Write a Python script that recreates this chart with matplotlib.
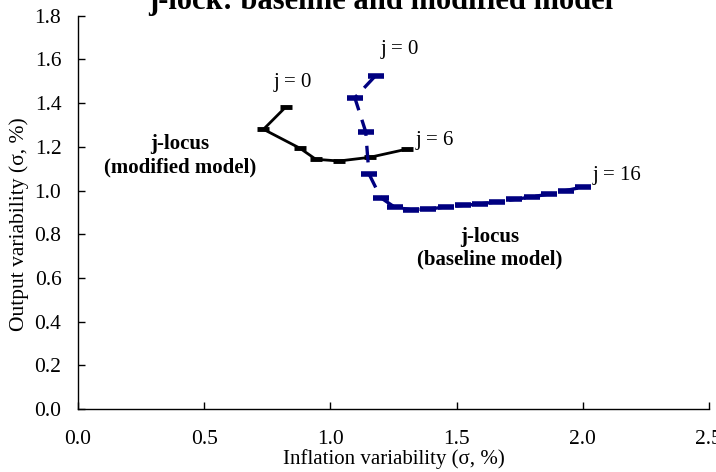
import matplotlib
matplotlib.use("Agg")
import matplotlib.pyplot as plt

plt.rcParams['font.family'] = ['Liberation Serif', 'DejaVu Serif']

# Baseline model j-locus (j = 0 ... 16)
base_x = [1.179, 1.097, 1.140, 1.153, 1.200, 1.256, 1.319, 1.387, 1.458,
          1.525, 1.593, 1.660, 1.727, 1.799, 1.866, 1.933, 2.001]
base_y = [1.525, 1.424, 1.269, 1.076, 0.967, 0.923, 0.913, 0.915, 0.925,
          0.932, 0.939, 0.948, 0.959, 0.971, 0.984, 1.000, 1.016]

# Modified model j-locus (j = 0 ... 6)
mod_x = [0.824, 0.735, 0.880, 0.942, 1.034, 1.157, 1.302]
mod_y = [1.383, 1.280, 1.193, 1.143, 1.135, 1.152, 1.189]

xticks = [0.0, 0.5, 1.0, 1.5, 2.0, 2.5]
yticks = [0.0, 0.2, 0.4, 0.6, 0.8, 1.0, 1.2, 1.4, 1.6, 1.8]

fig = plt.figure(figsize=(7.16, 4.72), dpi=100)
ax = fig.add_axes([0.109, 0.133, 0.881, 0.834])

ax.plot(mod_x, mod_y, color='black', lw=2, marker='_', ms=9, mew=3.5,
        solid_capstyle='butt')
ln, = ax.plot(base_x, base_y, color='#000080', lw=2.4, marker='_', ms=11,
              mew=4, dash_capstyle='butt')
ln.set_dashes([5, 3])

ax.set_xlim(0, 2.5)
ax.set_ylim(0, 1.8)
ax.set_xticks(xticks)
ax.set_yticks(yticks)
ax.set_xticklabels([f"{v:.1f}" for v in xticks])
ax.set_yticklabels([f"{v:.1f}" for v in yticks])
ax.tick_params(axis='both', direction='in', length=5, width=1, labelsize=15.5)
ax.tick_params(axis='x', pad=15)
ax.tick_params(axis='y', pad=12)
for s in ['top', 'right']:
    ax.spines[s].set_visible(False)
for s in ['left', 'bottom']:
    ax.spines[s].set_linewidth(1)
    ax.spines[s].set_color('black')

ax.set_xlabel("Inflation variability (σ, %)", fontsize=15, labelpad=0)
ax.set_ylabel("Output variability (σ, %)", fontsize=15.5)
ax.yaxis.set_label_coords(-0.078, 0.471)

fs = 15
ax.text(0.852, 1.496, "j = 0", fontsize=fs, ha='center', va='center')
ax.text(1.276, 1.643, "j = 0", fontsize=fs, ha='center', va='center')
ax.text(1.339, 1.231, "j = 6", fontsize=fs, ha='left', va='center')
ax.text(2.040, 1.071, "j = 16", fontsize=fs, ha='left', va='center')

ax.text(0.404, 1.160, "j-locus\n(modified model)", fontsize=15, fontweight='bold',
        ha='center', va='center', linespacing=1.2)
ax.text(1.632, 0.737, "j-locus\n(baseline model)", fontsize=15, fontweight='bold',
        ha='center', va='center', linespacing=1.2)

fig.text(381 / 716, 1 - 9 / 472, "j-lock: baseline and modified model",
         fontsize=22, fontweight='bold', ha='center', va='baseline')

fig.savefig("out.png", dpi=100)
